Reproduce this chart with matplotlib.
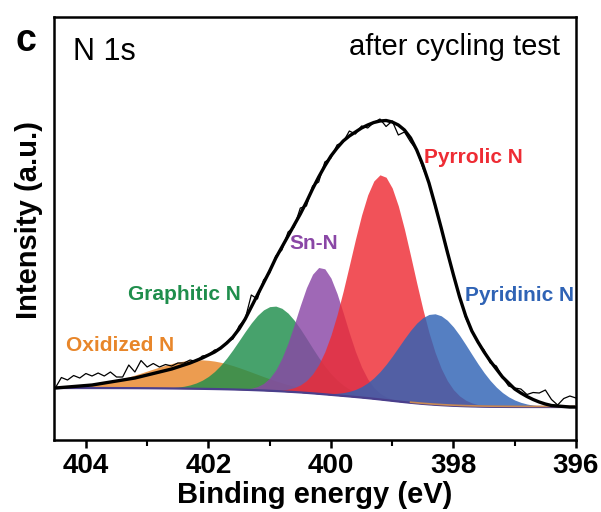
import numpy as np
import matplotlib
matplotlib.use("Agg")
import matplotlib.pyplot as plt

plt.rcParams['font.family'] = ['Liberation Sans', 'DejaVu Sans']

# Binding energy grid (eV), 0.1 eV step from 404.5 down to 396.0
energy = np.round(np.arange(404.5, 395.95, -0.1), 2)

# Envelope (fit)
envelope = [52, 52.5, 53, 53.5, 54, 54.5, 55, 56, 57, 58,
            59, 60, 61, 62, 63.5, 65, 66.5, 68, 69.5, 71,
            73, 75, 77, 79.5, 82, 85, 88, 92, 97, 103,
            111, 121, 133, 145, 157, 169, 182, 193, 204, 215,
            226, 238, 251, 263, 274, 284, 292, 299, 304, 308,
            312, 315, 317.5, 319, 319.5, 318, 315, 310, 302, 290,
            275, 257, 235, 212, 188, 165, 143, 124, 109, 98,
            88, 79, 71, 63, 57, 51, 47, 43.5, 40.5, 38,
            36, 34.5, 34, 33.5, 33, 33]

# Raw spectrum
raw = [52, 62.5, 60, 64.5, 62, 66.5, 64, 67, 64, 68,
       63, 63, 75, 68, 79.5, 73, 76.5, 73, 75.5, 74,
       77, 77, 80, 78.5, 84, 85, 90, 91, 98, 101,
       114, 121, 145, 141, 160, 167, 184, 190, 208, 213,
       232, 234, 254, 258, 278, 282, 295, 298, 309, 306,
       314, 312, 317.5, 321, 313.5, 319, 305, 308, 298, 290,
       272, 258, 233, 212, 190, 164, 144, 122, 109, 97,
       90, 77, 74, 63, 54, 52, 51, 45.5, 47.5, 47,
       50, 40.5, 35, 41.5, 44, 42]

# Fitted components: name, centre (eV), height, FWHM (eV)
comp_names = ["Oxidized N", "Graphitic N", "Sn-N", "Pyrrolic N", "Pyridinic N"]
comp_centers = [402.13, 400.92, 400.16, 399.17, 398.31]
comp_heights = [29, 85, 127, 225, 91]
comp_fwhm = [2.0, 1.3, 0.92, 1.2, 1.36]
comp_colors = ["#E8862A", "#1F8E4C", "#8A47A6", "#EE2C34", "#2F63B5"]

# Background end levels (high BE side, low BE side)
bg_high, bg_low = 52, 33

fig = plt.figure(figsize=(6.01, 5.12), dpi=100)
ax = fig.add_axes([0.0899, 0.1406, 0.8685, 0.8262])

E = energy
comps = []
for c, h, w in zip(comp_centers, comp_heights, comp_fwhm):
    s = w / 2.3548
    comps.append(h * np.exp(-0.5 * ((E - c) / s) ** 2))
total = np.sum(comps, axis=0)
# Shirley-type background (cumulative from low BE side)
cum = np.cumsum(total[::-1])[::-1]
bg = bg_low + (bg_high - bg_low) * cum / cum[0]

for comp, col in zip(comps, comp_colors):
    ax.fill_between(E, bg, bg + comp, color=col, alpha=0.82, linewidth=0, zorder=2)
ax.plot(E, bg, color="#4A3F8C", lw=1.6, zorder=3)
ax.plot(E[E < 398.8], bg[E < 398.8] + 0.6, color="#C98A55", lw=1.2, zorder=3)

ax.plot(E, raw, color="black", lw=0.9, zorder=4)
ax.plot(E, envelope, color="black", lw=2.4, zorder=5)

ax.set_xlim(404.52, 396.0)
ax.set_ylim(0, 423)
ax.set_xticks([404, 402, 400, 398, 396])
ax.set_xticks([403, 401, 399, 397], minor=True)
ax.set_yticks([])
for sp in ax.spines.values():
    sp.set_linewidth(1.8)
ax.tick_params(axis='x', which='major', direction='out', length=6, width=1.8,
               labelsize=20, pad=3)
ax.tick_params(axis='x', which='minor', direction='out', length=4, width=1.5)
for lab in ax.get_xticklabels():
    lab.set_fontweight('bold')

ax.set_xlabel("Binding energy (eV)", fontsize=21, fontweight='bold', labelpad=2)
ax.set_ylabel("Intensity (a.u.)", fontsize=21, fontweight='bold')
ax.yaxis.set_label_coords(-0.022, 0.52)

label_pos = [(403.44, 95), (402.39, 146), (400.28, 197), (397.67, 283), (396.92, 145)]
for name, (x, y), col in zip(comp_names, label_pos, comp_colors):
    ax.text(x, y, name, color=col, fontsize=15, fontweight='bold',
            ha='center', va='center', zorder=6)

ax.text(0.036, 0.917, "N 1s", transform=ax.transAxes, fontsize=22,
        ha='left', va='center')
ax.text(0.97, 0.93, "after cycling test", transform=ax.transAxes, fontsize=21,
        ha='right', va='center')
fig.text(0.043, 0.92, "c", fontsize=27, fontweight='bold', ha='center', va='center')

fig.savefig("out.png", dpi=100)
